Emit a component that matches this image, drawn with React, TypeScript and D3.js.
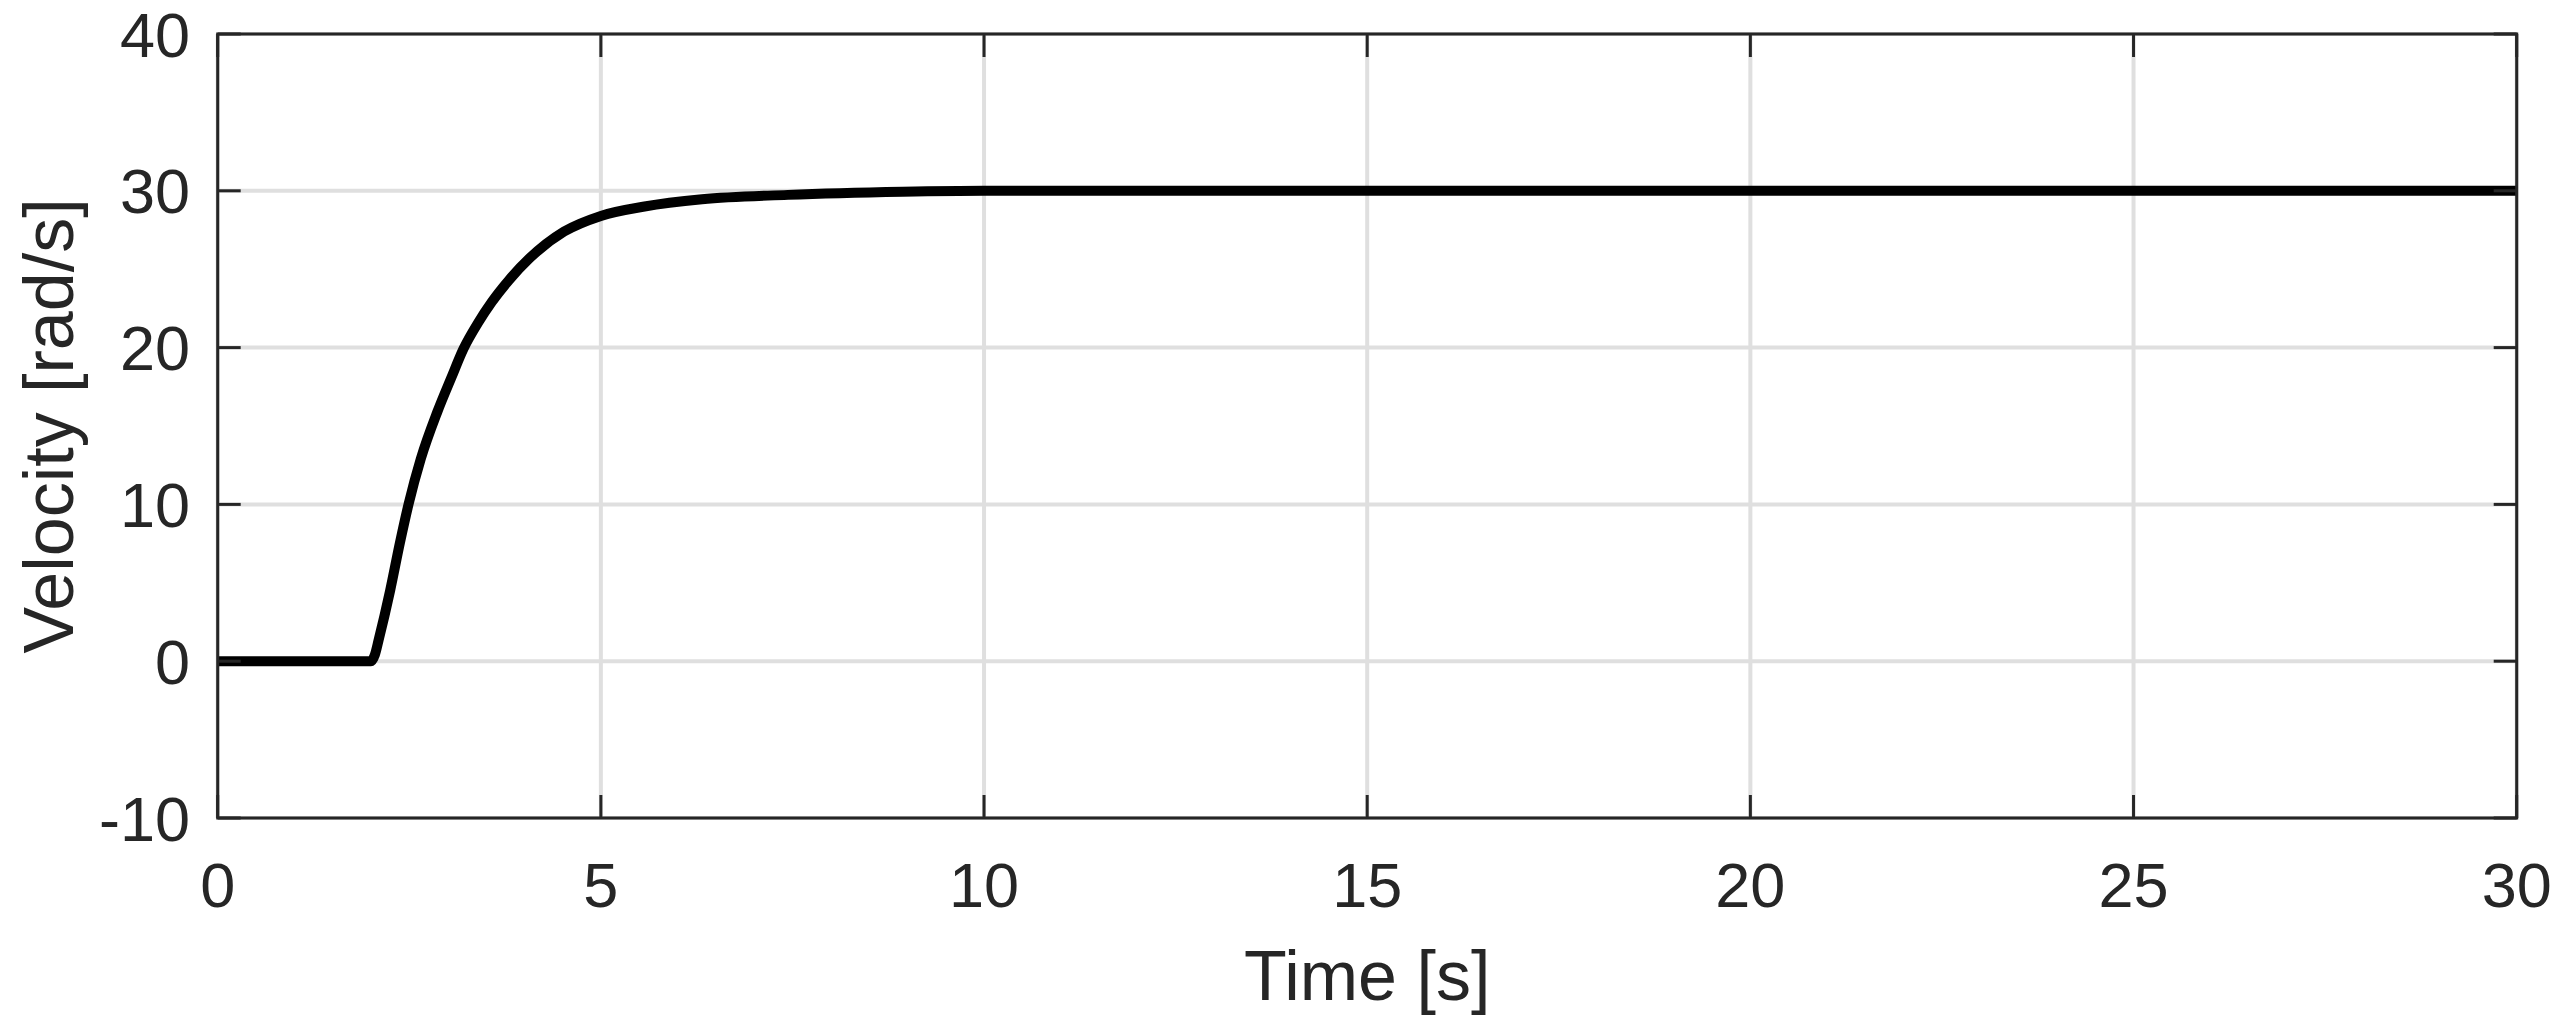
import React from "react";
import * as d3 from "d3";

const timeS = [0, 2.0, 2.05, 2.1, 2.25, 2.38, 2.49, 2.65, 2.866, 3.05, 3.205, 3.4, 3.575, 3.8, 4.07, 4.52, 5.0, 5.57, 6.32, 7.44, 8.94, 10, 30];
const velocity = [0, 0, 0.4, 1.35, 4.5, 7.6, 10.0, 12.9, 15.9, 18.1, 19.9, 21.6, 22.9, 24.3, 25.7, 27.4, 28.4, 29.0, 29.46, 29.74, 29.94, 30, 30];
const xTicks = [0, 5, 10, 15, 20, 25, 30];
const yTicks = [-10, 0, 10, 20, 30, 40];

const W = 2559;
const H = 1034;
const M = { left: 217.7, right: 2516.7, top: 34, bottom: 818 };
const INK = "#262626";
const FONT = "'Liberation Sans', Arial, Helvetica, sans-serif";

export default function App() {
  const x = d3.scaleLinear().domain([0, 30]).range([M.left, M.right]);
  const y = d3.scaleLinear().domain([-10, 40]).range([M.bottom, M.top]);
  const data = timeS.map((t, i) => [t, velocity[i]] as [number, number]);
  const line = d3
    .line<[number, number]>()
    .x((d) => x(d[0]))
    .y((d) => y(d[1]))
    .curve(d3.curveMonotoneX);
  const tl = 23;

  return (
    <svg
      width={W}
      height={H}
      style={{ position: "absolute", left: 0, top: 0, background: "#fff" }}
      fontFamily={FONT}
    >
      <rect x={0} y={0} width={W} height={H} fill="#fff" />
      {xTicks.map((t) => (
        <line key={"gx" + t} x1={x(t)} x2={x(t)} y1={M.top} y2={M.bottom} stroke="#dfdfdf" strokeWidth={4} />
      ))}
      {yTicks.map((t) => (
        <line key={"gy" + t} x1={M.left} x2={M.right} y1={y(t)} y2={y(t)} stroke="#dfdfdf" strokeWidth={4} />
      ))}
      <path d={line(data) || ""} fill="none" stroke="#000" strokeWidth={10} strokeLinejoin="round" />
      {xTicks.map((t) => (
        <g key={"tx" + t}>
          <line x1={x(t)} x2={x(t)} y1={M.bottom} y2={M.bottom - tl} stroke={INK} strokeWidth={3} />
          <line x1={x(t)} x2={x(t)} y1={M.top} y2={M.top + tl} stroke={INK} strokeWidth={3} />
          <text x={x(t)} y={907} textAnchor="middle" fontSize={63} fill={INK}>
            {t}
          </text>
        </g>
      ))}
      {yTicks.map((t) => (
        <g key={"ty" + t}>
          <line x1={M.left} x2={M.left + tl} y1={y(t)} y2={y(t)} stroke={INK} strokeWidth={3} />
          <line x1={M.right} x2={M.right - tl} y1={y(t)} y2={y(t)} stroke={INK} strokeWidth={3} />
          <text x={190} y={y(t) + 22.5} textAnchor="end" fontSize={63} fill={INK}>
            {t}
          </text>
        </g>
      ))}
      <rect
        x={M.left}
        y={M.top}
        width={M.right - M.left}
        height={M.bottom - M.top}
        fill="none"
        stroke={INK}
        strokeWidth={3}
      />
      <text x={(M.left + M.right) / 2} y={1000} textAnchor="middle" fontSize={70} fill={INK}>
        Time [s]
      </text>
      <text
        transform={`translate(73, ${(M.top + M.bottom) / 2}) rotate(-90)`}
        textAnchor="middle"
        fontSize={70}
        fill={INK}
      >
        Velocity [rad/s]
      </text>
    </svg>
  );
}
